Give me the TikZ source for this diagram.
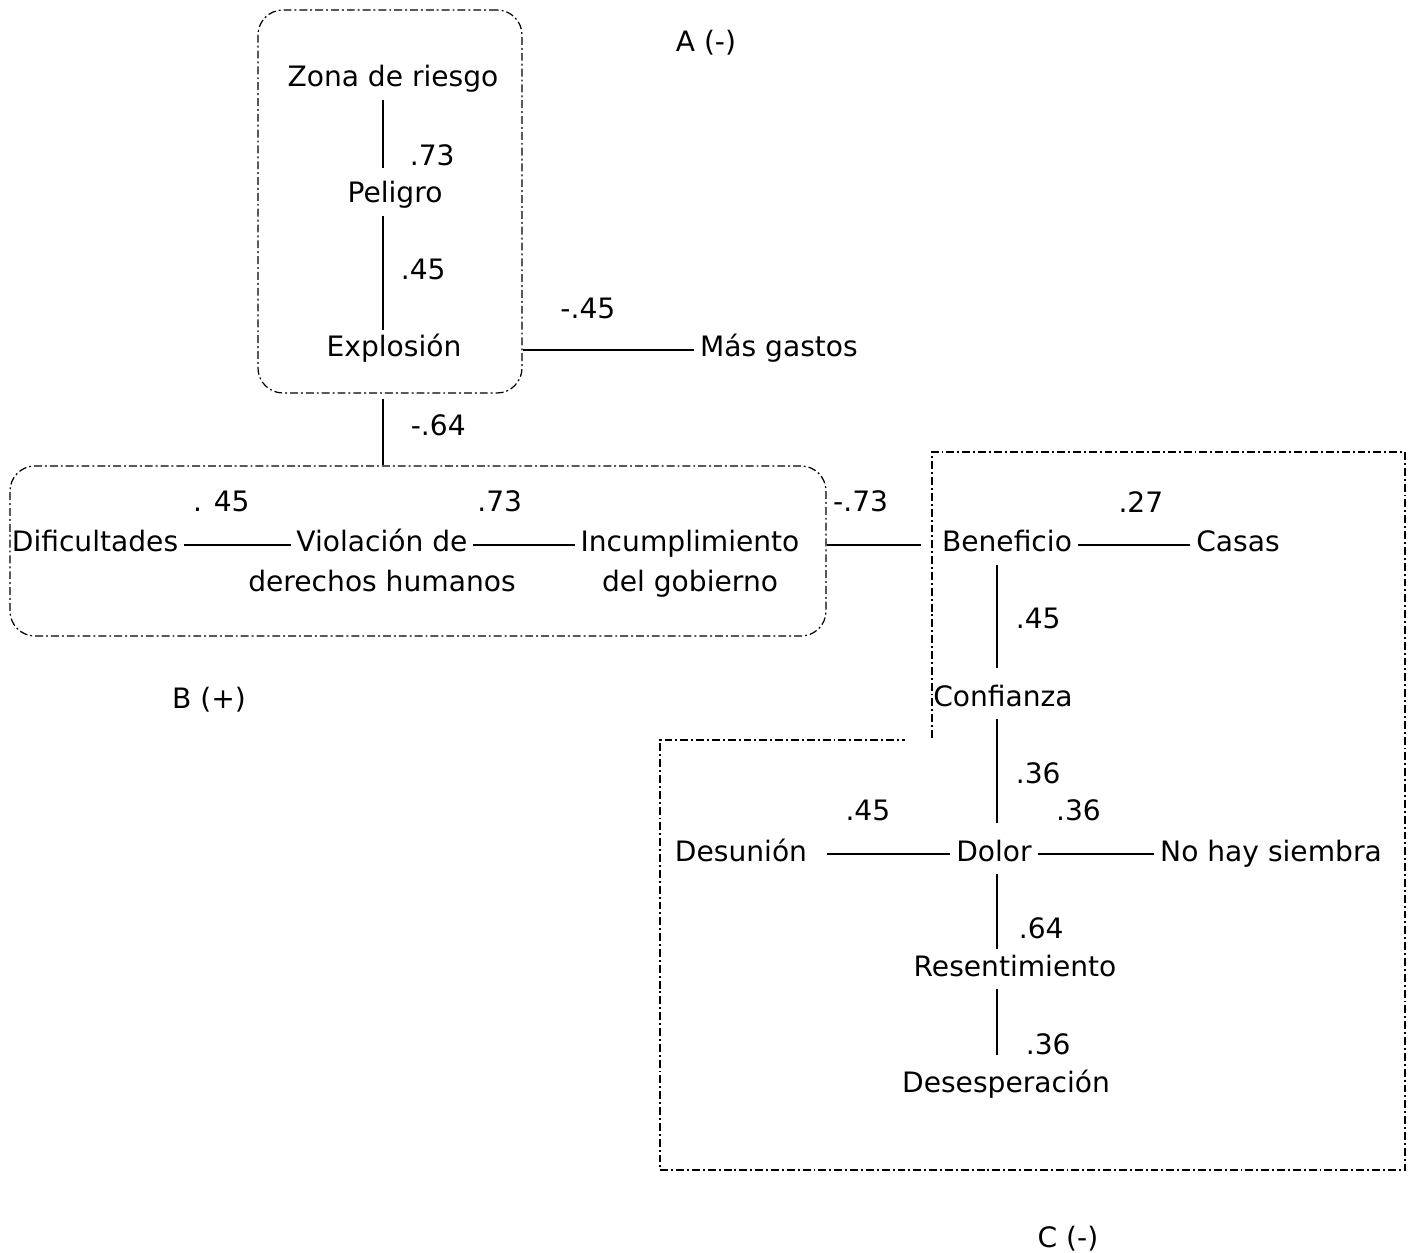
\documentclass[tikz,border=0pt]{standalone}
\usepackage{fontspec}
\setmainfont{DejaVu Sans}
\usetikzlibrary{
  positioning,
  fit
}

\begin{document}
\begin{tikzpicture}[
  x=0.02cm,y=-0.02cm,
  concept/.style={font=\fontsize{16}{19}\selectfont,text height=0.42cm,
                  text depth=0.14cm,inner sep=0.11cm},
  num/.style={font=\fontsize{16}{19}\selectfont,inner sep=0.11cm},
  link/.style={line width=0.95pt},
  group/.style={draw,line width=0.7pt,
                dash pattern=on 4.5pt off 1.7pt on 1.1pt off 1.7pt},
  groupbox/.style={group,rounded corners=0.5cm,inner sep=0pt},
]
\useasboundingbox (0,0) rectangle (1413,1253);

% groups
\coordinate (a1) at (258,10);  \coordinate (a2) at (522,393);
\coordinate (b1) at (10,466);  \coordinate (b2) at (826,636);
\node[groupbox,fit=(a1)(a2)] (boxA) {};
\node[groupbox,fit=(b1)(b2)] (boxB) {};
\draw[group] (932,738) -- (932,452) -- (1405,452) -- (1405,1170)
             -- (660,1170) -- (660,740) -- (905,740);

\node[concept] (labA) at (706,45)   {A (-)};
\node[concept] (labB) at (209,701)  {B (+)};
\node[concept] (labC) at (1068,1240) {C (-)};

% concepts
\node[concept] (zona)    at (393,80)  {Zona de riesgo};
\node[concept] (peligro) at (395,196) {Peligro};
\node[concept] (explo)   at (394,350) {Explosión};
\node[concept] (gastos)  at (779,350) {Más gastos};
\node[concept] (dific)   at (95,545)  {Dificultades};
\node[concept] (viol)    at (382,545) {Violación de};
\node[concept,below=0pt of viol]  (violb)  {derechos humanos};
\node[concept] (incum)   at (690,545) {Incumplimiento};
\node[concept,below=0pt of incum] (incumb) {del gobierno};
\node[concept] (benef)   at (1007,545) {Beneficio};
\node[concept] (casas)   at (1238,545) {Casas};
\node[concept] (conf)    at (1003,699) {Confianza};
\node[concept] (desun)   at (741,854)  {Desunión};
\node[concept] (dolor)   at (994,854)  {Dolor};
\node[concept] (nohay)   at (1271,854) {No hay siembra};
\node[concept] (resent)  at (1015,969) {Resentimiento};
\node[concept] (desesp)  at (1006,1085) {Desesperación};

\coordinate (colA) at (383,0);
\coordinate (colC) at (997,0);

% links
\draw[link,shorten >=0.17cm] (zona.south -| colA) -- node[num,pos=.72,right=0.41cm]{.73} (peligro.north -| colA);
\draw[link] (peligro.south -| colA) -- node[num,pos=.47,right=0.23cm]{.45} (explo.north -| colA);
\draw[link] (boxA.east |- explo) -- node[num,pos=.38,above=0.49cm]{-.45} (gastos.west);
\draw[link,shorten <=0.1cm] (boxA.south -| colA) -- node[num,pos=.44,right=0.43cm]{-.64} (boxB.north -| colA);
\draw[link] (dific) -- node[num,pos=.35,above=0.53cm]{. 45} (viol);
\draw[link] (viol) -- node[num,pos=.26,above=0.53cm]{.73} (incum);
\draw[link,shorten >=0.3cm] (boxB.east |- incum) -- node[num,pos=.31,above=0.53cm]{-.73} (benef.west);
\draw[link] (benef) -- node[num,pos=.56,above=0.53cm]{.27} (casas);
\draw[link,shorten >=0.23cm] (benef.south -| colC) -- node[num,pos=.47,right=0.25cm]{.45} (conf.north -| colC);
\draw[link,shorten >=0.23cm] (conf.south -| colC) -- node[num,pos=.47,right=0.25cm]{.36} (dolor.north -| colC);
\draw[link,shorten <=0.28cm] (desun) -- node[num,pos=.4,above=0.53cm]{.45} (dolor);
\draw[link] (dolor) -- node[num,pos=.35,above=0.53cm]{.36} (nohay);
\draw[link] (dolor.south -| colC) -- node[num,pos=.72,right=0.31cm]{.64} (resent.north -| colC);
\draw[link,shorten >=0.2cm] (resent.south -| colC) -- node[num,pos=.72,right=0.45cm]{.36} (desesp.north -| colC);
\end{tikzpicture}
\end{document}
